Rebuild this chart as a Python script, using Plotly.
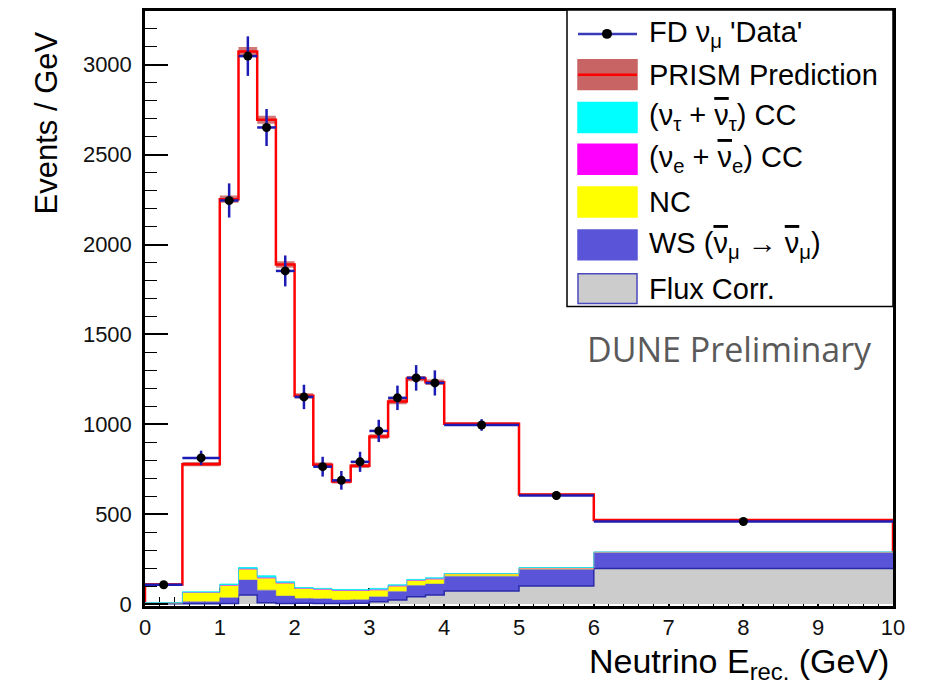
import plotly.graph_objects as go

# ---------------- data ----------------
edges = [0, 0.5, 1.0, 1.25, 1.5, 1.75, 2.0, 2.25, 2.5, 2.75, 3.0, 3.25, 3.5, 3.75, 4.0, 5.0, 6.0, 10.0]

prediction = [109, 778, 2252, 3074, 2694, 1889, 1158, 775, 681, 769, 932, 1126, 1254, 1234, 1003, 609, 467]
prediction_err = [6, 12, 20, 25, 22, 18, 14, 12, 11, 12, 13, 14, 15, 15, 8, 6, 5]

data_vals = [107, 813, 2245, 3048, 2651, 1853, 1152, 764, 688, 791, 963, 1147, 1258, 1230, 996, 604, 459]
data_err = [15, 40, 95, 110, 103, 86, 68, 55, 52, 56, 62, 68, 71, 70, 32, 25, 11]

flux_corr = [2, 2, 3, 50, 7, 3, 4, 3, 3, 4, 13, 22, 40, 50, 72, 100, 197]
ws_numubar = [1, 11, 32, 83, 70, 41, 27, 26, 19, 20, 27, 48, 63, 61, 83, 92, 87]
nc = [5, 50, 66, 59, 65, 70, 54, 50, 50, 48, 36, 28, 26, 26, 12, 7, 4]
nue_cc = [0, 1, 3, 3, 4, 3, 2, 3, 3, 3, 3, 3, 3, 3, 1, 1, 1]
nutau_cc = [0, 4, 7, 8, 11, 7, 5, 5, 6, 6, 8, 6, 5, 6, 2, 3, 1]

y_ticks = [0, 500, 1000, 1500, 2000, 2500, 3000]
x_ticks = list(range(0, 11))

# ---------------- helpers ----------------
centers = [(a + b) / 2 for a, b in zip(edges[:-1], edges[1:])]
halfw = [(b - a) / 2 for a, b in zip(edges[:-1], edges[1:])]


def step_y(vals):
    return list(vals) + [vals[-1]]


FONT = "Liberation Sans, Arial, Helvetica, sans-serif"

fig = go.Figure()

# prediction error band
lower = [p - e for p, e in zip(prediction, prediction_err)]
upper = [p + e for p, e in zip(prediction, prediction_err)]
fig.add_trace(go.Scatter(x=edges, y=step_y(lower), mode="lines", line=dict(width=0, shape="hv"),
                         showlegend=False, hoverinfo="skip"))
fig.add_trace(go.Scatter(x=edges, y=step_y(upper), mode="lines", line=dict(width=0, shape="hv"),
                         fill="tonexty", fillcolor="rgba(200,95,95,0.85)", showlegend=False,
                         hoverinfo="skip"))

# prediction line (histogram outline)
px_line = [edges[0]] + edges[:-1] + [edges[-1], edges[-1]]
py_line = [0] + prediction + [prediction[-1], 0]
fig.add_trace(go.Scatter(x=px_line, y=py_line, mode="lines",
                         line=dict(color="#ff0000", width=2.5, shape="hv"),
                         name="PRISM Prediction", showlegend=False))

# stacked background components
stack = [
    ("Flux Corr.", flux_corr, "#cccccc", "#2a2aa8", 1.5),
    ("WS", ws_numubar, "#5a55d8", "#5a55d8", 0.5),
    ("NC", nc, "#ffff00", "#ffff00", 0.5),
    ("nue CC", nue_cc, "#ff00ff", "#ff00ff", 0.5),
    ("nutau CC", nutau_cc, "#00ffff", "#00e8e8", 0.8),
]
cum = [0] * len(flux_corr)
for i, (name, vals, fcol, lcol, lw) in enumerate(stack):
    cum = [c + v for c, v in zip(cum, vals)]
    fig.add_trace(go.Scatter(x=edges, y=step_y(cum), mode="lines",
                             line=dict(color=lcol, width=lw, shape="hv"),
                             fill="tozeroy" if i == 0 else "tonexty", fillcolor=fcol,
                             name=name, showlegend=False))

# data points
fig.add_trace(go.Scatter(x=centers, y=data_vals, mode="markers",
                         marker=dict(color="black", size=9),
                         error_y=dict(type="data", array=data_err, color="#1c1cb4", thickness=2.5, width=0),
                         error_x=dict(type="data", array=halfw, color="#1c1cb4", thickness=2.5, width=0),
                         name="FD data", showlegend=False))

# ---------------- layout ----------------
X0, X1 = 145, 893
YB, YT = 606, 8


def pxx(x):
    return (x - X0) / (X1 - X0)


def pyy(y):
    return (YB - y) / (YB - YT)


shapes = []
annotations = []

# legend box
shapes.append(dict(type="rect", xref="paper", yref="paper", x0=pxx(567), x1=pxx(893), y0=pyy(305), y1=pyy(7),
                   line=dict(color="black", width=1.5), fillcolor="white", layer="above"))

NUBAR = '<span style="text-decoration:overline">ν</span>'
rows = [31, 72, 115, 157, 200, 243, 287]
labels = [
    "FD ν<sub>μ</sub> 'Data'",
    "PRISM Prediction",
    "(ν<sub>τ</sub> + " + NUBAR + "<sub>τ</sub>) CC",
    "(ν<sub>e</sub> + " + NUBAR + "<sub>e</sub>) CC",
    "NC",
    "WS (" + NUBAR + "<sub>μ</sub> → " + NUBAR + "<sub>μ</sub>)",
    "Flux Corr.",
]
sw_x0, sw_x1, sw_h = 578, 637, 15
swatches = [None, "#c86464", "#00ffff", "#ff00ff", "#ffff00", "#5a55d8", "#cccccc"]
borders = [None, "#c86464", "#00ffff", "#ff00ff", "#ffff00", "#5a55d8", "#4a4ac0"]
for r, lab, sc, bc in zip(rows, labels, swatches, borders):
    if sc is None:
        shapes.append(dict(type="line", xref="paper", yref="paper", x0=pxx(sw_x0), x1=pxx(sw_x1),
                           y0=pyy(r), y1=pyy(r), line=dict(color="#3a3ab8", width=2.5), layer="above"))
        shapes.append(dict(type="circle", xref="paper", yref="paper", x0=pxx(602), x1=pxx(612),
                           y0=pyy(r + 5), y1=pyy(r - 5), fillcolor="black", line=dict(width=0), layer="above"))
    else:
        shapes.append(dict(type="rect", xref="paper", yref="paper", x0=pxx(sw_x0), x1=pxx(sw_x1),
                           y0=pyy(r + sw_h), y1=pyy(r - sw_h), fillcolor=sc,
                           line=dict(color=bc, width=1.5), layer="above"))
        if lab == "PRISM Prediction":
            shapes.append(dict(type="line", xref="paper", yref="paper", x0=pxx(sw_x0), x1=pxx(sw_x1),
                               y0=pyy(r), y1=pyy(r), line=dict(color="#ff0000", width=2.5), layer="above"))
    annotations.append(dict(xref="paper", yref="paper", x=pxx(647), y=pyy(r), xanchor="left", yanchor="middle",
                            text=lab, showarrow=False, font=dict(family=FONT, size=29, color="black")))

# DUNE Preliminary
annotations.append(dict(xref="paper", yref="paper", x=pxx(874), y=pyy(348), xanchor="right", yanchor="middle",
                        text="DUNE Preliminary", showarrow=False,
                        font=dict(family="Open Sans, Noto Sans, sans-serif", size=34, color="#5a5a5a")))

# axis titles
annotations.append(dict(xref="paper", yref="paper", x=pxx(46), y=pyy(27), xanchor="center", yanchor="top",
                        textangle=-90, text="Events / GeV", showarrow=False,
                        font=dict(family=FONT, size=31, color="black")))
annotations.append(dict(xref="paper", yref="paper", x=pxx(891), y=pyy(664), xanchor="right", yanchor="middle",
                        text="Neutrino E<sub>rec.</sub> (GeV)", showarrow=False,
                        font=dict(family=FONT, size=34, color="black")))

fig.update_layout(
    width=927, height=686,
    margin=dict(l=X0, r=927 - X1, t=YT, b=686 - YB),
    paper_bgcolor="white", plot_bgcolor="white",
    showlegend=False,
    shapes=shapes, annotations=annotations,
    xaxis=dict(range=[0, 10], tickvals=x_ticks, ticktext=[str(v) for v in x_ticks],
               ticks="inside", ticklen=18, tickwidth=1.5, tickcolor="black",
               minor=dict(dtick=0.2, ticks="inside", ticklen=9, tickwidth=1.2, tickcolor="black"),
               showline=True, linecolor="black", linewidth=2.5, mirror=True, showgrid=False, zeroline=False,
               tickfont=dict(family=FONT, size=22, color="#111"), layer="below traces"),
    yaxis=dict(range=[-11, 3299], tickvals=y_ticks, ticktext=[str(v) for v in y_ticks],
               ticks="inside", ticklen=23, tickwidth=1.5, tickcolor="black",
               minor=dict(dtick=100, ticks="inside", ticklen=12, tickwidth=1.2, tickcolor="black"),
               showline=True, linecolor="black", linewidth=2.5, mirror=True, showgrid=False, zeroline=False,
               ticklabelstandoff=6,
               tickfont=dict(family=FONT, size=22, color="#111")),
)

fig.write_html("out.html")
